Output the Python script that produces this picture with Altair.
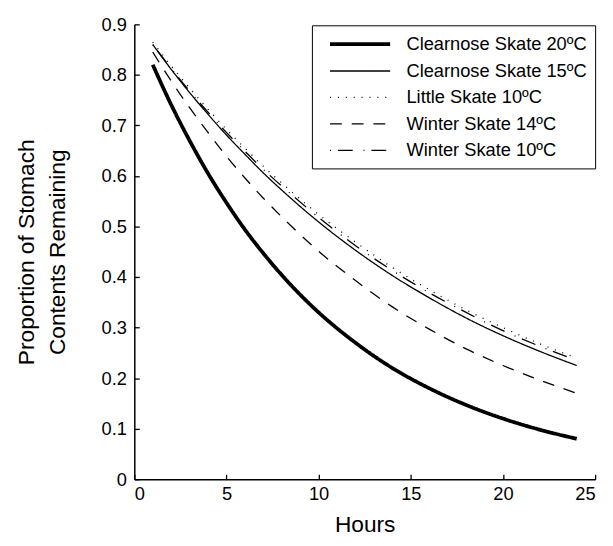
import altair as alt
import pandas as pd

hours = [1, 2, 3, 4, 5, 6, 7, 8, 10, 12, 14, 16, 18, 20, 22, 24]

clearnose_20 = [0.820, 0.741, 0.670, 0.605, 0.547, 0.494, 0.447, 0.404, 0.330, 0.270, 0.220, 0.180, 0.147, 0.120, 0.098, 0.080]
clearnose_15 = [0.860, 0.811, 0.765, 0.722, 0.681, 0.643, 0.606, 0.572, 0.509, 0.453, 0.403, 0.359, 0.319, 0.284, 0.253, 0.225]
little_10 = [0.865, 0.818, 0.774, 0.732, 0.692, 0.655, 0.619, 0.586, 0.524, 0.469, 0.419, 0.375, 0.335, 0.300, 0.268, 0.240]
winter_14 = [0.845, 0.788, 0.735, 0.686, 0.639, 0.596, 0.556, 0.519, 0.451, 0.393, 0.341, 0.297, 0.258, 0.225, 0.196, 0.170]
winter_10 = [0.860, 0.813, 0.768, 0.726, 0.686, 0.649, 0.613, 0.580, 0.518, 0.462, 0.413, 0.369, 0.330, 0.294, 0.263, 0.235]

names = [
    "Clearnose Skate 20ºC",
    "Clearnose Skate 15ºC",
    "Little Skate 10ºC",
    "Winter Skate 14ºC",
    "Winter Skate 10ºC",
]
series_values = [clearnose_20, clearnose_15, little_10, winter_14, winter_10]

x_ticks = [0, 5, 10, 15, 20, 25]
y_ticks = [0, 0.1, 0.2, 0.3, 0.4, 0.5, 0.6, 0.7, 0.8, 0.9]

dashes = [[1, 0], [1, 0], [1, 7], [12, 10], [1, 7, 15, 11]]
widths = [3.8, 1.3, 1.3, 1.3, 1.3]

rows = []
for name, vals in zip(names, series_values):
    for h, v in zip(hours, vals):
        rows.append({"hours": h, "value": v, "series": name})
df = pd.DataFrame(rows)

FONT = "Liberation Sans"
W, H = 467, 461

xscale = alt.Scale(domain=[0, 25], nice=False)
yscale = alt.Scale(domain=[0, 0.9], nice=False)

legend = alt.Legend(
    title=None,
    orient="none",
    legendX=180,
    legendY=1,
    symbolType="M-4.44,0M-3.52,0H3.52",
    symbolSize=300,
    symbolOffset=29.8,
    labelOffset=36,
    labelFont=FONT,
    labelFontSize=18.5,
    labelColor="black",
    labelLimit=400,
    padding=8,
    rowPadding=7.8,
    strokeColor="black",
    fillColor="white",
    symbolStrokeColor="black",
)

lines = alt.Chart(df).mark_line(color="black", strokeCap="butt", interpolate="monotone").encode(
    x=alt.X(
        "hours:Q",
        scale=xscale,
        axis=alt.Axis(
            values=x_ticks,
            title="Hours",
            ticks=False,
            tickSize=0,
            labelPadding=6,
            titleY=53,
            titleBaseline="alphabetic",
        ),
    ),
    y=alt.Y(
        "value:Q",
        scale=yscale,
        axis=alt.Axis(
            values=y_ticks,
            title=["Proportion of Stomach", "Contents Remaining"],
            ticks=False,
            tickSize=0,
            labelPadding=8,
            labelExpr="datum.value == 0 ? '0' : format(datum.value, '.1f')",
            titleX=-97,
            titleLineHeight=31,
        ),
    ),
    strokeDash=alt.StrokeDash(
        "series:N",
        scale=alt.Scale(domain=names, range=dashes),
        legend=legend,
    ),
    strokeWidth=alt.StrokeWidth(
        "series:N",
        scale=alt.Scale(type="ordinal", domain=names, range=widths),
        legend=legend,
    ),
)

inner_ticks = alt.Chart(df).mark_line(opacity=0).encode(
    x=alt.X(
        "hours:Q",
        scale=xscale,
        axis=alt.Axis(
            orient="top",
            offset=-H,
            values=x_ticks,
            labels=False,
            domain=False,
            title=None,
            tickSize=5,
            tickWidth=1.3,
            tickColor="black",
        ),
    ),
    y=alt.Y(
        "value:Q",
        scale=yscale,
        axis=alt.Axis(
            orient="right",
            offset=-W,
            values=y_ticks,
            labels=False,
            domain=False,
            title=None,
            tickSize=5,
            tickWidth=1.3,
            tickColor="black",
        ),
    ),
)

chart = (
    alt.layer(lines, inner_ticks)
    .resolve_axis(x="independent", y="independent")
    .properties(
        width=W,
        height=H,
        padding={"left": 128, "top": 13, "right": 10, "bottom": 56},
        autosize=alt.AutoSizeParams(type="none"),
    )
    .configure_view(stroke=None)
    .configure_axis(
        grid=False,
        domainColor="black",
        domainWidth=1.5,
        labelFont=FONT,
        labelFontSize=18.5,
        labelColor="black",
        titleFont=FONT,
        titleFontSize=23,
        titleFontWeight="normal",
        titleColor="black",
    )
)

chart.save("out.html", embed_options={"renderer": "svg", "actions": False})
